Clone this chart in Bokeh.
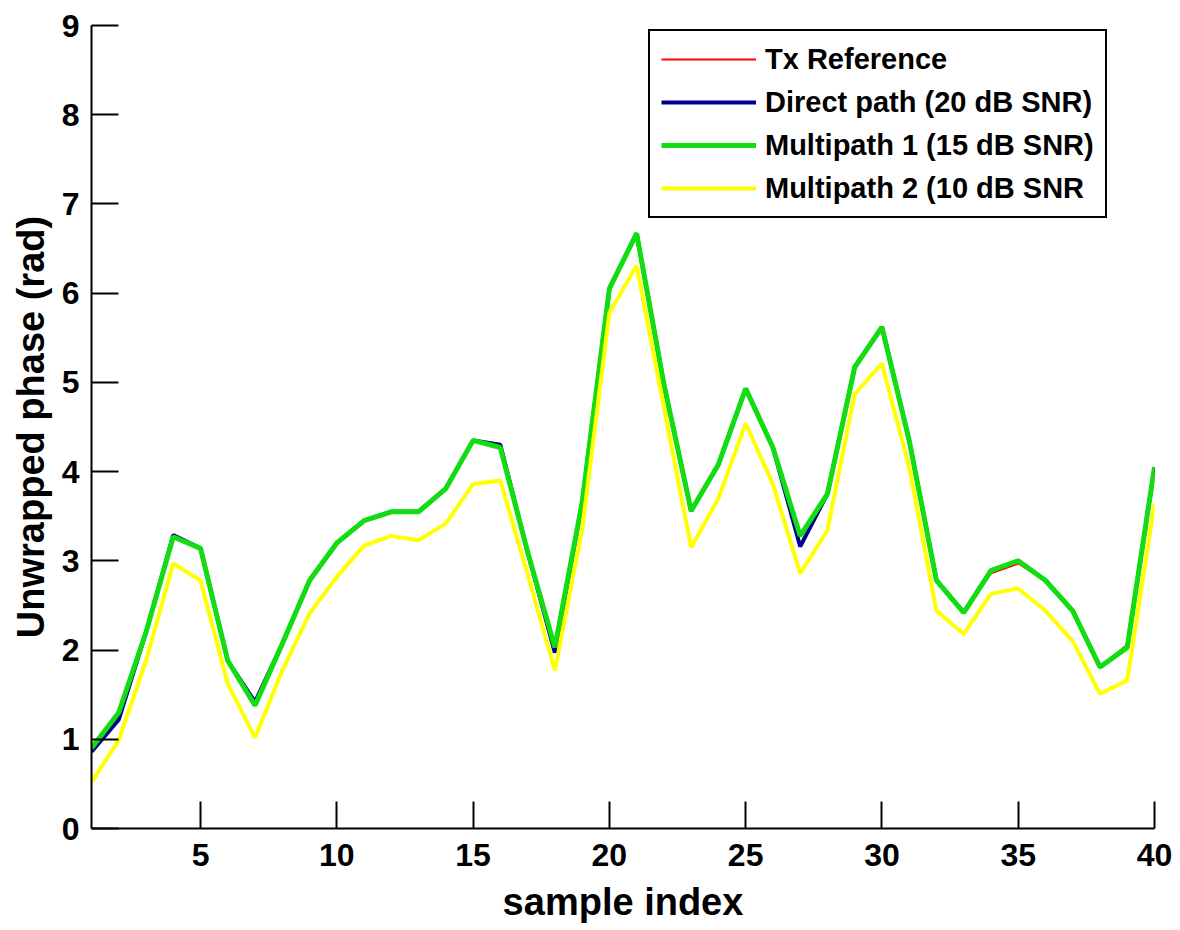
from bokeh.plotting import figure
from bokeh.models import Range1d, FixedTicker, Legend, LegendItem
from bokeh.embed import file_html
from bokeh.resources import INLINE

# ---- data ----
sample_index = list(range(1, 41))

tx_reference = [0.86, 1.22, 2.20, 3.29, 3.14, 1.88, 1.42, 2.07, 2.78, 3.20,
                3.45, 3.55, 3.55, 3.81, 4.35, 4.30, 3.10, 1.97, 3.65, 6.05,
                6.67, 4.98, 3.56, 4.08, 4.93, 4.27, 3.16, 3.75, 5.17, 5.62,
                4.35, 2.78, 2.42, 2.86, 2.97, 2.78, 2.44, 1.81, 2.06, 4.05]

direct_path = [0.86, 1.22, 2.20, 3.29, 3.14, 1.88, 1.42, 2.07, 2.78, 3.20,
               3.45, 3.55, 3.55, 3.81, 4.35, 4.30, 3.10, 1.97, 3.65, 6.05,
               6.67, 4.98, 3.56, 4.08, 4.93, 4.27, 3.16, 3.75, 5.17, 5.62,
               4.35, 2.78, 2.42, 2.89, 3.00, 2.78, 2.44, 1.81, 2.03, 4.05]

multipath_1 = [0.90, 1.30, 2.20, 3.27, 3.14, 1.88, 1.38, 2.07, 2.78, 3.20,
               3.45, 3.55, 3.55, 3.81, 4.35, 4.27, 3.10, 2.03, 3.65, 6.05,
               6.67, 4.98, 3.56, 4.08, 4.93, 4.27, 3.28, 3.75, 5.17, 5.62,
               4.35, 2.78, 2.42, 2.89, 3.00, 2.78, 2.44, 1.81, 2.03, 4.05]

multipath_2 = [0.52, 0.99, 1.88, 2.97, 2.78, 1.62, 1.02, 1.77, 2.41, 2.82,
               3.17, 3.28, 3.23, 3.42, 3.86, 3.90, 2.85, 1.77, 3.35, 5.78,
               6.31, 4.72, 3.15, 3.70, 4.54, 3.86, 2.86, 3.34, 4.87, 5.21,
               4.05, 2.44, 2.18, 2.63, 2.69, 2.44, 2.10, 1.51, 1.66, 3.64]

series_labels = ["Tx Reference", "Direct path (20 dB SNR)",
                 "Multipath 1 (15 dB SNR)", "Multipath 2 (10 dB SNR"]
x_ticks = [5, 10, 15, 20, 25, 30, 35, 40]
y_ticks = [0, 1, 2, 3, 4, 5, 6, 7, 8, 9]

FONT = "Liberation Sans"

p = figure(width=1180, height=930, output_backend="svg", toolbar_location=None,
           x_range=Range1d(1, 40), y_range=Range1d(0, 9),
           min_border_left=91, min_border_right=26, min_border_top=25,
           min_border_bottom=102)
p.outline_line_color = None
p.xgrid.visible = False
p.ygrid.visible = False
p.background_fill_color = "white"
p.border_fill_color = "white"

r_tx = p.line(sample_index, tx_reference, line_color="#ff0000", line_width=2)
r_dp = p.line(sample_index, direct_path, line_color="#000090", line_width=4)
r_m1 = p.line(sample_index, multipath_1, line_color="#11dd11", line_width=5)
r_m2 = p.line(sample_index, multipath_2, line_color="#ffff00", line_width=4)

for ax in (p.xaxis[0], p.yaxis[0]):
    ax.axis_line_width = 2
    ax.axis_line_color = "black"
    ax.major_tick_line_width = 2
    ax.major_tick_line_color = "black"
    ax.major_tick_in = 27
    ax.major_tick_out = 0
    ax.minor_tick_line_color = None
    ax.major_label_text_font = FONT
    ax.major_label_text_font_style = "bold"
    ax.major_label_text_font_size = "32px"
    ax.major_label_text_color = "black"
    ax.axis_label_text_font = FONT
    ax.axis_label_text_font_style = "bold"
    ax.axis_label_text_font_size = "38px"
    ax.axis_label_text_color = "black"

p.xaxis.ticker = FixedTicker(ticks=x_ticks)
p.yaxis.ticker = FixedTicker(ticks=y_ticks)
p.xaxis.major_label_standoff = 15
p.yaxis.major_label_standoff = 12
p.xaxis.axis_label = "sample index"
p.yaxis.axis_label = "Unwrapped phase (rad)"
p.xaxis.axis_label_standoff = 12
p.yaxis.axis_label_standoff = 7

legend = Legend(items=[
    LegendItem(label=series_labels[0], renderers=[r_tx]),
    LegendItem(label=series_labels[1], renderers=[r_dp]),
    LegendItem(label=series_labels[2], renderers=[r_m1]),
    LegendItem(label=series_labels[3], renderers=[r_m2]),
], location=(557, 610))
legend.label_text_font = FONT
legend.label_text_font_style = "bold"
legend.label_text_font_size = "29px"
legend.label_text_color = "black"
legend.glyph_width = 95
legend.glyph_height = 34
legend.label_height = 34
legend.label_standoff = 9
legend.spacing = 9
legend.padding = 11
legend.margin = 0
legend.border_line_color = "black"
legend.border_line_alpha = 1.0
legend.border_line_width = 2
legend.background_fill_color = "white"
legend.background_fill_alpha = 1.0
p.add_layout(legend, "center")

open("out.html", "w").write(file_html(p, INLINE))
